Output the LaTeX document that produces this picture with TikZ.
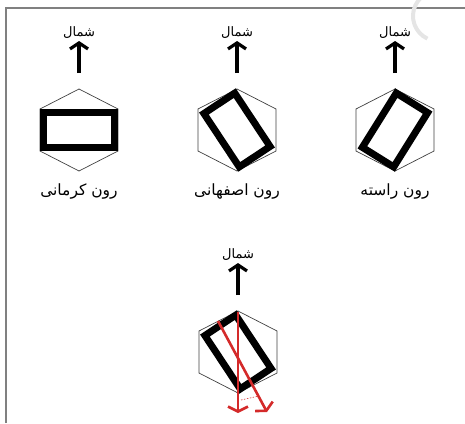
\documentclass[tikz,border=0pt]{standalone}
\usepackage{fontspec}
\newfontfamily\fa[Script=Arabic]{DejaVu Sans}
\TeXXeTstate=1
\usetikzlibrary{arrows.meta}
\definecolor{axisred}{RGB}{212,42,42}
\tikzset{hexa/.style={draw=black!75,line width=.7pt},
  plank/.style={draw=black,line width=7pt},
  frame/.style={draw=black!50,line width=1.2pt},
  north/.style={line width=3.2pt,-{Straight Barb[length=6pt,width=18pt]}},
  axis/.style={draw=axisred,line width=2.6pt,-{Straight Barb[length=5pt,width=20pt]}},
  dir/.style={font=\fa\fontsize{13}{15}\selectfont,anchor=south,inner sep=2pt},
  lab/.style={font=\fa\fontsize{15.5}{18}\selectfont,inner sep=1pt}}
\newcommand\roomhex{\draw[hexa](0,-41)--(39,-21)--(39,21)--(0,41)--(-39,21)--(-39,-21)--cycle;}
\newcommand\shomal[1]{\coordinate(f#1)at(0,-57);\node[dir](n#1)at(0,-89){\beginR شمال\endR};\draw[north](f#1)--(n#1);}
\begin{document}
\begin{tikzpicture}[x=1pt,y=-1pt]
\useasboundingbox (0,0) rectangle (465,423);
% frame and watermark
\draw[frame](6,423)--(6,8)--(465,8);
\draw[black!10,line width=4pt](438,16)++(250:25)arc[start angle=250,end angle=115,radius=25];
% a kermani
\begin{scope}[shift={(79,130)}]\roomhex\draw[plank](-35.5,-17.5)rectangle(35.5,17.5);\shomal{a}\node[lab](la)at(0,62){\beginR رون کرمانی\endR};\end{scope}
% b esfahani
\begin{scope}[shift={(237,130)}]\roomhex\draw[plank,rotate=33.5](-18.5,-32)rectangle(18.5,32);\shomal{b}\node[lab](lb)at(0,62){\beginR رون اصفهانی\endR};\end{scope}
% c raste
\begin{scope}[shift={(395,130)}]\roomhex\draw[plank,rotate=-32](-18.5,-32)rectangle(18.5,32);\shomal{c}\node[lab](lc)at(0,62){\beginR رون راسته\endR};\end{scope}
% d esfahani with axes
\begin{scope}[shift={(238,352)}]\roomhex\draw[plank,rotate=33.5](-18.5,-32)rectangle(18.5,32);\shomal{d}
\coordinate(top)at(0,-40);\coordinate(s1)at(0,61);\coordinate(up)at(-20,-31);\coordinate(s2)at(29,60);
\draw[axis](top)--(s1);\draw[axis](up)--(s2);\draw[axisred,line width=.6pt,dash pattern=on 1.5pt off 1.5pt](3,48)--(21,44);\end{scope}
\end{tikzpicture}
\end{document}
